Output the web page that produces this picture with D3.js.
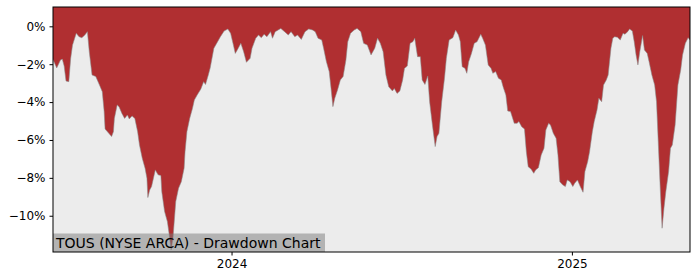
<!DOCTYPE html>
<html>
<head>
<meta charset="utf-8">
<script src="https://cdn.jsdelivr.net/npm/d3@7"></script>
<style>
  html, body { margin: 0; padding: 0; background: #fff; }
  #chart { width: 700px; height: 280px; }
  text { font-family: "DejaVu Sans", sans-serif; }
</style>
</head>
<body>
<div id="chart"></div>
<script>
// --- Data (drawdown in %) ---
const dates = [
  "2023-06-23","2023-06-27","2023-07-01","2023-07-03","2023-07-05","2023-07-07","2023-07-10","2023-07-12",
  "2023-07-14","2023-07-18","2023-07-21","2023-07-24","2023-07-27","2023-07-30","2023-08-01","2023-08-04",
  "2023-08-08","2023-08-12","2023-08-15","2023-08-17","2023-08-18","2023-08-22","2023-08-25","2023-08-27",
  "2023-08-28","2023-08-31","2023-09-02","2023-09-05","2023-09-08","2023-09-11","2023-09-13","2023-09-16",
  "2023-09-19","2023-09-22","2023-09-24","2023-09-27","2023-09-30","2023-10-02","2023-10-03","2023-10-05",
  "2023-10-07","2023-10-11","2023-10-14","2023-10-17","2023-10-18","2023-10-21","2023-10-24","2023-10-26",
  "2023-10-28","2023-10-30","2023-11-02","2023-11-05","2023-11-08","2023-11-11","2023-11-12","2023-11-14",
  "2023-11-17","2023-11-20","2023-11-22","2023-11-25","2023-11-29","2023-12-02","2023-12-04","2023-12-07",
  "2023-12-09","2023-12-13","2023-12-17","2023-12-20","2023-12-24","2023-12-28","2023-12-31",
  "2024-01-03","2024-01-05","2024-01-07","2024-01-11","2024-01-14","2024-01-17","2024-01-21","2024-01-23",
  "2024-01-27","2024-01-30","2024-02-02","2024-02-05","2024-02-08","2024-02-12","2024-02-14","2024-02-17",
  "2024-02-23","2024-02-27","2024-03-02","2024-03-05","2024-03-09","2024-03-12","2024-03-16","2024-03-20",
  "2024-03-24","2024-03-28","2024-03-31","2024-04-03","2024-04-07","2024-04-09","2024-04-12","2024-04-15",
  "2024-04-17","2024-04-19","2024-04-21","2024-04-24","2024-04-27","2024-04-30","2024-05-03","2024-05-05",
  "2024-05-08","2024-05-12","2024-05-15","2024-05-19","2024-05-22","2024-05-26","2024-05-30","2024-06-03",
  "2024-06-06","2024-06-09","2024-06-12","2024-06-15","2024-06-18","2024-06-22","2024-06-24","2024-06-27",
  "2024-06-30","2024-07-03","2024-07-05","2024-07-08","2024-07-11","2024-07-14","2024-07-16","2024-07-19",
  "2024-07-22","2024-07-24","2024-07-27","2024-07-30","2024-08-01","2024-08-04","2024-08-07","2024-08-09",
  "2024-08-11","2024-08-14","2024-08-17","2024-08-19","2024-08-22","2024-08-26","2024-08-29","2024-09-01",
  "2024-09-03","2024-09-05","2024-09-08","2024-09-10","2024-09-12","2024-09-15","2024-09-18","2024-09-21",
  "2024-09-25","2024-09-27","2024-09-30","2024-10-03","2024-10-06","2024-10-08","2024-10-11","2024-10-14",
  "2024-10-17","2024-10-19","2024-10-22","2024-10-24","2024-10-27","2024-10-31","2024-11-03","2024-11-05",
  "2024-11-08","2024-11-11","2024-11-13","2024-11-15","2024-11-18","2024-11-21","2024-11-23","2024-11-26",
  "2024-11-29","2024-12-02","2024-12-04","2024-12-07","2024-12-09","2024-12-12","2024-12-15","2024-12-17",
  "2024-12-19","2024-12-22","2024-12-25","2024-12-27","2024-12-30",
  "2025-01-02","2025-01-04","2025-01-07","2025-01-10","2025-01-13","2025-01-15","2025-01-18","2025-01-20",
  "2025-01-23","2025-01-25","2025-01-28","2025-01-30","2025-02-02","2025-02-04","2025-02-07","2025-02-09",
  "2025-02-12","2025-02-14","2025-02-16","2025-02-19","2025-02-22","2025-02-25","2025-02-27","2025-03-02",
  "2025-03-04","2025-03-07","2025-03-09","2025-03-11","2025-03-13","2025-03-15","2025-03-18","2025-03-20",
  "2025-03-23","2025-03-25","2025-03-28","2025-03-31","2025-04-02","2025-04-04","2025-04-06","2025-04-08",
  "2025-04-10","2025-04-12","2025-04-15","2025-04-17","2025-04-19","2025-04-22","2025-04-25","2025-04-28",
  "2025-04-30","2025-05-03","2025-05-06","2025-05-08"
];

const drawdown = [
  -1.75, -2.2, -1.78, -1.73, -2.1, -2.89, -2.92, -1.7,
  -0.99, -0.37, -0.55, -0.6, -0.47, -0.28, -1.34, -2.57,
  -2.65, -3.1, -3.45, -4.5, -5.42, -5.65, -5.82, -5.56,
  -4.86, -4.15, -4.24, -4.59, -4.86, -4.68, -4.89, -4.73,
  -4.86, -5.56, -6.26, -6.97, -7.49, -8.02, -9.04, -8.64,
  -8.46, -7.58, -7.84, -7.88, -8.73, -9.78, -10.31, -11.0,
  -11.8, -11.19, -9.25, -8.55, -8.2, -7.49, -6.62, -5.56,
  -4.86, -4.33, -3.89, -3.63, -3.31, -2.92, -3.07, -2.57,
  -2.2, -1.16, -0.81, -0.55, -0.25, -0.14, -0.37,
  -0.99, -1.43, -1.26, -0.9, -1.34, -1.9, -1.69, -1.16,
  -0.63, -0.46, -0.6, -0.42, -0.55, -0.28, -0.63, -0.28,
  -0.11, -0.28, -0.46, -0.28, -0.55, -0.46, -0.69, -0.28,
  -0.14, -0.19, -0.28, -0.63, -0.72, -1.16, -1.87, -2.39,
  -3.28, -4.24, -3.8, -3.36, -2.83, -2.65, -1.78, -0.81,
  -0.37, -0.19, -0.11, -0.28, -0.9, -0.99, -1.51, -1.16,
  -0.63, -0.9, -1.34, -2.57, -3.19, -3.41, -3.28, -3.54,
  -3.41, -2.83, -2.22, -2.1, -0.9, -0.81, -0.63, -1.6,
  -1.6, -2.83, -3.07, -2.62, -3.98, -5.21, -6.35, -5.82,
  -5.65, -3.98, -2.74, -1.69, -0.72, -0.6, -0.2, -0.46,
  -0.81, -2.13, -2.22, -2.48, -1.87, -1.43, -0.9, -0.81,
  -0.42, -0.63, -0.99, -2.04, -2.22, -2.48, -2.39, -2.74,
  -2.83, -3.19, -3.63, -4.47, -4.5, -5.12, -5.12, -5.03,
  -5.3, -5.42, -6.62, -7.41, -7.53, -7.76, -7.58, -7.46,
  -6.79, -6.44, -5.47, -5.12, -5.21, -5.65, -5.91, -6.79,
  -8.2, -8.37, -8.46, -8.11, -8.2,
  -8.46, -8.28, -8.11, -8.46, -8.76, -7.67, -7.14, -6.62,
  -5.56, -5.03, -4.42, -3.8, -3.98, -3.1, -2.83, -2.57,
  -1.16, -0.63, -0.55, -0.58, -0.72, -0.37, -0.42, -0.28,
  -0.14, -0.25, -0.81, -1.51, -2.04, -1.34, -0.49, -1.25,
  -1.43, -1.87, -2.57, -3.1, -3.98, -6.26, -8.55, -10.66,
  -9.6, -8.73, -7.67, -6.44, -6.26, -5.21, -3.1, -2.31,
  -1.51, -0.9, -0.6, -0.72
];

const yTicks = [0, -2, -4, -6, -8, -10];
const xTicks = ["2024-01-01", "2025-01-01"];
const xTickLabels = ["2024", "2025"];
const yDomain = [-11.93, 1.02];
const chartTitle = "TOUS (NYSE ARCA) - Drawdown Chart";

function renderDrawdown() {
  const container = document.getElementById("chart");
  const width = 700, height = 280;
  const margin = { top: 7, right: 10, bottom: 28, left: 53 };
  const parse = d3.timeParse("%Y-%m-%d");

  const data = dates.map((d, i) => ({ date: parse(d), value: drawdown[i] }));

  // --- Scales ---
  const x = d3.scaleTime()
    .domain(d3.extent(data, d => d.date))
    .range([margin.left, width - margin.right]);

  const y = d3.scaleLinear()
    .domain(yDomain)
    .range([height - margin.bottom + 0.3, margin.top]);

  const svg = d3.select(container)
    .append("svg")
    .attr("width", width)
    .attr("height", height);

  const plotW = width - margin.right - margin.left;
  const plotH = height - margin.bottom - margin.top;

  svg.append("clipPath").attr("id", "clip")
    .append("rect")
    .attr("x", margin.left).attr("y", margin.top)
    .attr("width", plotW).attr("height", plotH);

  // --- Plot background ---
  svg.append("rect")
    .attr("x", margin.left).attr("y", margin.top)
    .attr("width", plotW).attr("height", plotH)
    .attr("fill", "#ececec");

  // --- Drawdown area (filled from the line up to the top) ---
  const area = d3.area()
    .x(d => x(d.date))
    .y0(y(yDomain[1]))
    .y1(d => y(d.value));

  const line = d3.line()
    .x(d => x(d.date))
    .y(d => y(d.value));

  const g = svg.append("g").attr("clip-path", "url(#clip)");

  g.append("path")
    .datum(data)
    .attr("fill", "#b02f31")
    .attr("d", area);

  g.append("path")
    .datum(data)
    .attr("fill", "none")
    .attr("stroke", "#8a8a8a")
    .attr("stroke-opacity", 0.7)
    .attr("stroke-width", 0.8)
    .attr("d", line);

  // --- Title box inside the plot (semi-transparent, marks show through) ---
  const titleG = svg.append("g");
  const titleText = titleG.append("text")
    .attr("x", margin.left + 3)
    .attr("y", height - margin.bottom - 4.5)
    .attr("font-size", "14px")
    .attr("fill", "#000")
    .text(chartTitle);
  const bb = titleText.node().getBBox();
  titleG.insert("rect", "text")
    .attr("x", margin.left)
    .attr("y", bb.y - 1)
    .attr("width", bb.width + 6)
    .attr("height", height - margin.bottom - bb.y + 1)
    .attr("fill", "#7a7a7a")
    .attr("fill-opacity", 0.5);

  // --- Axes ---
  const fmt = d => (d < 0 ? "\u2212" : "") + Math.abs(d) + "%";

  const yAxis = svg.append("g")
    .attr("transform", `translate(${margin.left},0)`)
    .call(d3.axisLeft(y).tickValues(yTicks).tickFormat(fmt).tickSize(3.5).tickPadding(4));
  yAxis.select(".domain").remove();
  yAxis.selectAll("text").attr("font-size", "12px").attr("font-family", "DejaVu Sans").attr("fill", "#000");
  yAxis.selectAll("line").attr("stroke", "#000");

  const xAxis = svg.append("g")
    .attr("transform", `translate(0,${height - margin.bottom})`)
    .call(d3.axisBottom(x)
      .tickValues(xTicks.map(parse))
      .tickFormat((d, i) => xTickLabels[i])
      .tickSize(3.5).tickPadding(4));
  xAxis.select(".domain").remove();
  xAxis.selectAll("text").attr("font-size", "12px").attr("font-family", "DejaVu Sans").attr("fill", "#000");
  xAxis.selectAll("line").attr("stroke", "#000");

  // --- Frame ---
  svg.append("rect")
    .attr("x", margin.left).attr("y", margin.top)
    .attr("width", plotW).attr("height", plotH)
    .attr("fill", "none")
    .attr("stroke", "#000")
    .attr("stroke-width", 1);
}

renderDrawdown();
</script>
</body>
</html>
